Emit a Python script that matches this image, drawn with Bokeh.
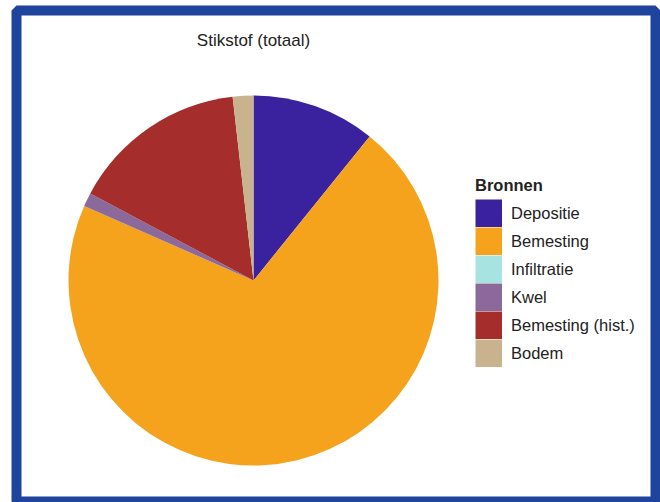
import numpy as np
from bokeh.plotting import figure
from bokeh.models import ColumnDataSource, Legend, LegendItem, Label
from bokeh.embed import file_html
from bokeh.resources import INLINE

# Data (percent shares), clockwise from 12 o'clock
categories = ["Depositie", "Bemesting", "Infiltratie", "Kwel", "Bemesting (hist.)", "Bodem"]
shares = [10.8, 70.8, 0.0, 1.2, 15.4, 1.8]
colors = ["#3a219e", "#f5a21c", "#a6e3e1", "#8b6a9b", "#a52d2c", "#c9b38f"]
title_text = "Stikstof (totaal)"
legend_title = "Bronnen"

vals = np.array(shares, dtype=float)
frac = vals / vals.sum()
cum_end = np.cumsum(frac)
cum_start = np.concatenate([[0.0], cum_end[:-1]])
start = np.pi / 2 - cum_start * 2 * np.pi
end = np.pi / 2 - cum_end * 2 * np.pi

keep = frac > 0
pie_src = ColumnDataSource(dict(
    cat=[c for c, k in zip(categories, keep) if k],
    color=[c for c, k in zip(colors, keep) if k],
    start=start[keep], end=end[keep]))
# legend-only source: empty lines, one per category (nothing drawn in the plot)
leg_src = ColumnDataSource(dict(cat=categories, color=colors,
                                xs=[[] for _ in categories], ys=[[] for _ in categories]))

FONT = "Liberation Sans"

p = figure(width=660, height=502, output_backend="svg", toolbar_location=None,
           x_range=(-237, 402), y_range=(-222, 270),
           x_axis_location=None, y_axis_location=None, title_location=None,
           min_border_left=16, min_border_right=5, min_border_top=10, min_border_bottom=0)
p.grid.grid_line_color = None
p.background_fill_color = "white"
p.border_fill_color = "white"
p.outline_line_color = "#1f449d"
p.outline_line_width = 10
p.outline_line_alpha = 1.0

p.wedge(x=0, y=0, radius=185, start_angle="start", end_angle="end", direction="clock",
        fill_color="color", line_color=None, source=pie_src)

# proxy renderer whose thick butt-capped legend line gives full-size colour blocks
proxy = p.multi_line(xs="xs", ys="ys", line_color="color", line_width=28, line_cap="butt",
                     source=leg_src)

p.add_layout(Label(x=0, y=240, text=title_text, text_align="center", text_baseline="middle",
                   text_font=FONT, text_font_size="17px", text_color="#222222"))

items = [LegendItem(label=c, renderers=[proxy], index=i) for i, c in enumerate(categories)]
legend = Legend(items=items, location=(459, 135), title=legend_title,
                padding=0, margin=0, spacing=0, border_line_color=None,
                background_fill_alpha=0.0,
                glyph_width=27, glyph_height=28, label_height=28, label_standoff=9,
                label_text_font=FONT, label_text_font_size="16.5px", label_text_color="#222222",
                title_text_font=FONT, title_text_font_size="16.5px", title_text_font_style="bold",
                title_text_color="#222222", title_standoff=4)
p.add_layout(legend)

open("out.html", "w").write(file_html(p, INLINE))
